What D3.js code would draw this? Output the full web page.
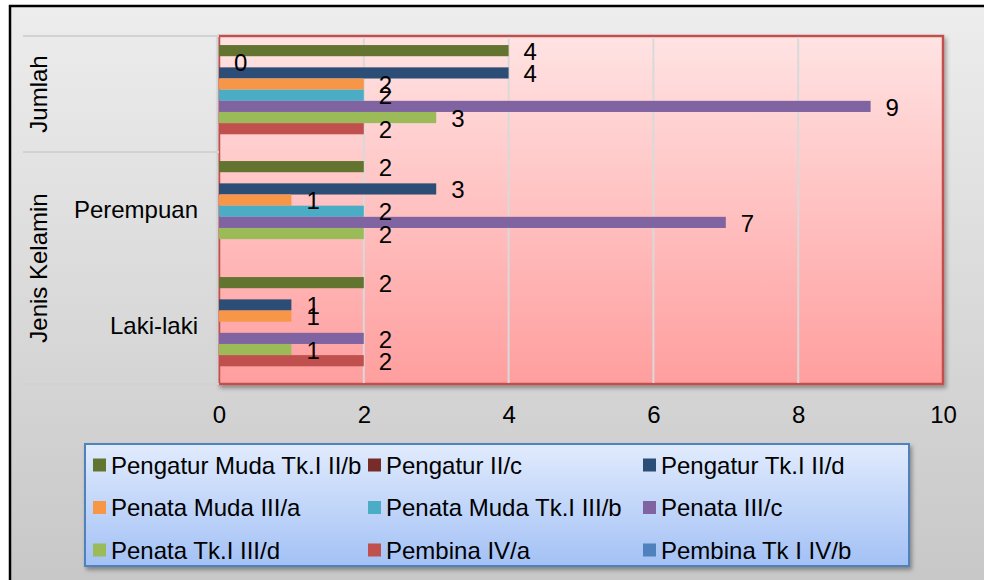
<!DOCTYPE html>
<html>
<head>
<meta charset="utf-8">
<script src="https://cdn.jsdelivr.net/npm/d3@7"></script>
<style>
  body { margin: 0; background: #fff; }
  text { font-family: "Liberation Sans", Arial, sans-serif; fill: #000; }
</style>
</head>
<body>
<div id="root"></div>
<script>
const categories = ["Jumlah", "Perempuan", "Laki-laki"];
const outerLabels = ["Jumlah", "Jenis Kelamin", "Jenis Kelamin"];
const innerLabels = ["", "Perempuan", "Laki-laki"];

const seriesNames = [
  "Pengatur Muda Tk.I II/b", "Pengatur II/c", "Pengatur Tk.I II/d",
  "Penata Muda III/a", "Penata Muda Tk.I III/b", "Penata III/c",
  "Penata Tk.I III/d", "Pembina IV/a", "Pembina Tk I IV/b"
];
const seriesColors = [
  "#627430", "#772c2a", "#2c4d75",
  "#f79646", "#4bacc6", "#8064a2",
  "#9bbb59", "#c0504d", "#4f81bd"
];

// values per series, in category order: Jumlah, Perempuan, Laki-laki
const pengaturMudaTkI = [4, 2, 2];
const pengaturIIc = [0, null, null];
const pengaturTkI = [4, 3, 1];
const penataMuda = [2, 1, 1];
const penataMudaTkI = [2, 2, null];
const penataIIIc = [9, 7, 2];
const penataTkI = [3, 2, 1];
const pembinaIVa = [2, null, 2];
const pembinaTkI = [null, null, null];

const xTicks = [0, 2, 4, 6, 8, 10];

const seriesValues = [pengaturMudaTkI, pengaturIIc, pengaturTkI, penataMuda,
  penataMudaTkI, penataIIIc, penataTkI, pembinaIVa, pembinaTkI];

const w = 984;
const h = 580;
const plot = { left: 219, right: 943, top: 36, bottom: 384 };
const fontSize = "24px";

const svg = d3.select("#root")
  .append("svg")
  .attr("width", w)
  .attr("height", h);

const defs = svg.append("defs");

const bgGrad = defs.append("linearGradient")
  .attr("id", "bgGrad").attr("x1", 0).attr("y1", 0).attr("x2", 0).attr("y2", 1);
bgGrad.append("stop").attr("offset", "0%").attr("stop-color", "#ededed");
bgGrad.append("stop").attr("offset", "100%").attr("stop-color", "#c6c6c6");

const plotGrad = defs.append("linearGradient")
  .attr("id", "plotGrad").attr("x1", 0).attr("y1", 0).attr("x2", 0).attr("y2", 1);
plotGrad.append("stop").attr("offset", "0%").attr("stop-color", "#ffe3e3");
plotGrad.append("stop").attr("offset", "100%").attr("stop-color", "#ff9e9e");

const legGrad = defs.append("linearGradient")
  .attr("id", "legGrad").attr("x1", 0).attr("y1", 0).attr("x2", 0).attr("y2", 1);
legGrad.append("stop").attr("offset", "0%").attr("stop-color", "#e1ebfd");
legGrad.append("stop").attr("offset", "100%").attr("stop-color", "#a3c1f5");

const shadow = defs.append("filter").attr("id", "shadow")
  .attr("x", "-5%").attr("y", "-5%").attr("width", "110%").attr("height", "115%");
shadow.append("feDropShadow")
  .attr("dx", 2).attr("dy", 3).attr("stdDeviation", 2)
  .attr("flood-color", "#000").attr("flood-opacity", 0.35);

// outer chart frame
svg.append("rect")
  .attr("x", 10).attr("y", 6)
  .attr("width", 1000).attr("height", 600)
  .attr("fill", "url(#bgGrad)")
  .attr("stroke", "#000")
  .attr("stroke-width", 2.5);

const x = d3.scaleLinear()
  .domain([0, 10])
  .range([plot.left, plot.right]);

const y = d3.scaleBand()
  .domain(categories)
  .range([plot.top, plot.bottom])
  .padding(0);

const ySub = d3.scaleBand()
  .domain(seriesNames)
  .range([0, y.bandwidth()])
  .paddingInner(0)
  .paddingOuter(0.7)
  .align(0.58);

// plot area
svg.append("rect")
  .attr("x", plot.left).attr("y", plot.top)
  .attr("width", plot.right - plot.left)
  .attr("height", plot.bottom - plot.top)
  .attr("fill", "url(#plotGrad)")
  .attr("stroke", "#c0504d")
  .attr("stroke-width", 2.5)
  .attr("filter", "url(#shadow)");

svg.append("g")
  .selectAll("line")
  .data(xTicks.filter(d => d > 0 && d < 10))
  .enter()
  .append("line")
  .attr("x1", d => x(d)).attr("x2", d => x(d))
  .attr("y1", plot.top + 1).attr("y2", plot.bottom - 1)
  .attr("stroke", "#d9d9d9")
  .attr("stroke-width", 2);

// category divider lines on the left
const dividerYs = [plot.top, y("Perempuan"), plot.bottom];
svg.append("g")
  .selectAll("line")
  .data(dividerYs)
  .enter()
  .append("line")
  .attr("x1", 23).attr("x2", plot.left)
  .attr("y1", d => d).attr("y2", d => d)
  .attr("stroke", "#d2d2d2")
  .attr("stroke-width", 2);

svg.append("line")
  .attr("x1", plot.left - 1.5).attr("x2", plot.left - 1.5)
  .attr("y1", plot.top).attr("y2", plot.bottom)
  .attr("stroke", "#d2d2d2")
  .attr("stroke-width", 2);

// bars
const barData = [];
seriesNames.forEach((s, si) => {
  categories.forEach((c, ci) => {
    const v = seriesValues[si][ci];
    if (v !== null) barData.push({ series: s, cat: c, value: v, color: seriesColors[si] });
  });
});

svg.append("g")
  .selectAll("rect")
  .data(barData)
  .enter()
  .append("rect")
  .attr("x", x(0))
  .attr("y", d => y(d.cat) + ySub(d.series))
  .attr("width", d => x(d.value) - x(0))
  .attr("height", ySub.bandwidth())
  .attr("fill", d => d.color);

svg.append("g")
  .selectAll("text")
  .data(barData)
  .enter()
  .append("text")
  .attr("x", d => x(d.value) + 15)
  .attr("y", d => y(d.cat) + ySub(d.series) + ySub.bandwidth() / 2)
  .attr("dy", "0.38em")
  .style("font-size", fontSize)
  .text(d => d.value);

// x axis
const xAxis = d3.axisBottom(x)
  .tickValues(xTicks)
  .tickSize(0)
  .tickPadding(22);

const gx = svg.append("g")
  .attr("transform", `translate(0, ${plot.bottom})`)
  .call(xAxis);
gx.select(".domain").remove();
gx.selectAll("text")
  .style("font-size", fontSize)
  .style("font-family", "'Liberation Sans', Arial, sans-serif")
  .attr("fill", "#000");

// inner category labels
const yAxis = d3.axisLeft(y)
  .tickSize(0)
  .tickPadding(21)
  .tickFormat((d, i) => innerLabels[i]);

const gy = svg.append("g")
  .attr("transform", `translate(${plot.left}, 0)`)
  .call(yAxis);
gy.select(".domain").remove();
gy.selectAll("text")
  .style("font-size", fontSize)
  .style("font-family", "'Liberation Sans', Arial, sans-serif")
  .attr("fill", "#000");

// outer category labels
const outerGroups = d3.groups(categories.map((c, i) => ({ c, label: outerLabels[i] })), d => d.label);
svg.append("g")
  .selectAll("text")
  .data(outerGroups)
  .enter()
  .append("text")
  .attr("transform", d => {
    const first = y(d[1][0].c);
    const last = y(d[1][d[1].length - 1].c) + y.bandwidth();
    return `translate(47, ${(first + last) / 2}) rotate(-90)`;
  })
  .attr("text-anchor", "middle")
  .style("font-size", fontSize)
  .text(d => d[0]);

// legend
const legend = svg.append("g");
legend.append("rect")
  .attr("x", 85).attr("y", 444)
  .attr("width", 824).attr("height", 122)
  .attr("fill", "url(#legGrad)")
  .attr("stroke", "#4f81bd")
  .attr("stroke-width", 2)
  .attr("filter", "url(#shadow)");

const legendItems = legend.selectAll("g.item")
  .data(seriesNames)
  .enter()
  .append("g")
  .attr("class", "item")
  .attr("transform", (d, i) => `translate(${93 + (i % 3) * 275}, ${465 + Math.floor(i / 3) * 42.5})`);

legendItems.append("rect")
  .attr("x", 0).attr("y", -6.5)
  .attr("width", 13).attr("height", 13)
  .attr("fill", (d, i) => seriesColors[i]);

legendItems.append("text")
  .attr("x", 18)
  .attr("dy", "0.36em")
  .style("font-size", fontSize)
  .text(d => d);
</script>
</body>
</html>
